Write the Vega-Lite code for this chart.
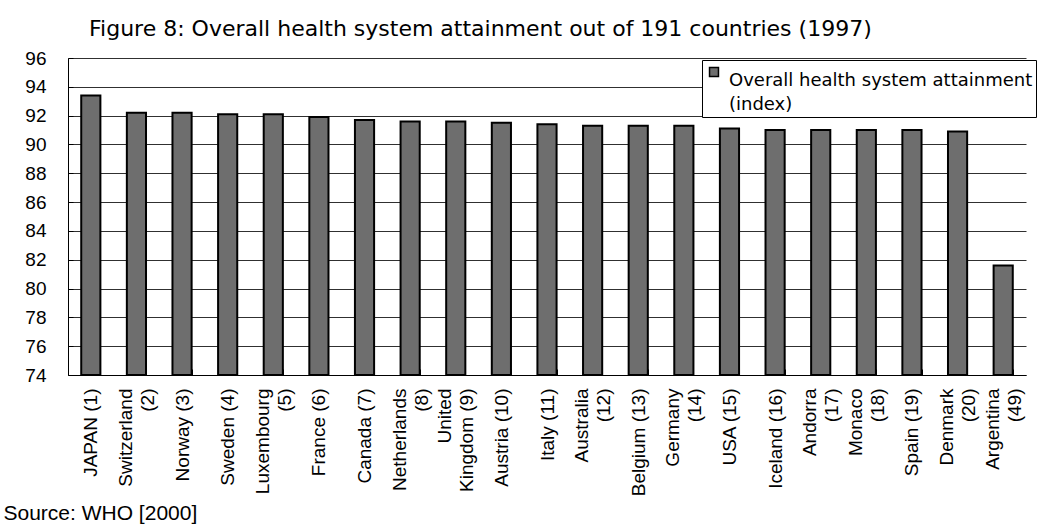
{
  "$schema": "https://vega.github.io/schema/vega-lite/v6.json",
  "width": 958,
  "height": 317,
  "autosize": "none",
  "padding": {"left": 68, "top": 58, "right": 12, "bottom": 151},
  "background": "white",
  "title": {
    "text": "Figure 8: Overall health system attainment out of 191 countries (1997)",
    "anchor": "start",
    "dx": 86,
    "offset": 8,
    "font": "DejaVu Sans",
    "fontSize": 22,
    "fontWeight": "normal",
    "color": "black"
  },
  "data": {
    "values": [
      {"country": "JAPAN (1)", "value": 93.4},
      {"country": "Switzerland|(2)", "value": 92.2},
      {"country": "Norway (3)", "value": 92.2},
      {"country": "Sweden (4)", "value": 92.1},
      {"country": "Luxembourg|(5)", "value": 92.1},
      {"country": "France (6)", "value": 91.9},
      {"country": "Canada (7)", "value": 91.7},
      {"country": "Netherlands|(8)", "value": 91.6},
      {"country": "United|Kingdom (9)", "value": 91.6},
      {"country": "Austria (10)", "value": 91.5},
      {"country": "Italy (11)", "value": 91.4},
      {"country": "Australia|(12)", "value": 91.3},
      {"country": "Belgium (13)", "value": 91.3},
      {"country": "Germany|(14)", "value": 91.3},
      {"country": "USA (15)", "value": 91.1},
      {"country": "Iceland (16)", "value": 91.0},
      {"country": "Andorra|(17)", "value": 91.0},
      {"country": "Monaco|(18)", "value": 91.0},
      {"country": "Spain (19)", "value": 91.0},
      {"country": "Denmark|(20)", "value": 90.9},
      {"country": "Argentina|(49)", "value": 81.6}
    ]
  },
  "mark": {"type": "bar", "stroke": "black", "strokeWidth": 2, "clip": true},
  "encoding": {
    "x": {
      "field": "country",
      "type": "nominal",
      "sort": null,
      "scale": {"paddingInner": 0.58, "paddingOuter": 0.29},
      "axis": {
        "title": "Source: WHO [2000]",
        "titleAnchor": "start",
        "titleAlign": "left",
        "titleX": -65,
        "titleY": 144,
        "titleBaseline": "alphabetic",
        "titleFont": "Liberation Sans",
        "titleFontSize": 21,
        "titleFontWeight": "normal",
        "titleColor": "black",
        "labelExpr": "indexof(datum.label, '|') < 0 ? datum.label : [pad(split(datum.label, '|')[0], length(split(datum.label, '|')[1]), '\u00a0'), pad(split(datum.label, '|')[1], length(split(datum.label, '|')[0]), '\u00a0')]",
        "labelAngle": -90,
        "labelAlign": "right",
        "labelBaseline": "middle",
        "labelLineHeight": 22,
        "labelOffset": {"condition": {"test": "indexof(datum.label, '|') >= 0", "value": -11}, "value": 0},
        "labelPadding": 19,
        "labelFont": "Liberation Sans",
        "labelFontSize": 19,
        "labelColor": "black",
        "tickBand": "extent",
        "tickSize": -6,
        "tickColor": "black",
        "domainColor": "black",
        "labelLimit": 200,
        "grid": false
      }
    },
    "y": {
      "field": "value",
      "type": "quantitative",
      "scale": {"domain": [74, 96], "nice": false, "zero": false},
      "axis": {
        "title": null,
        "values": [74, 76, 78, 80, 82, 84, 86, 88, 90, 92, 94, 96],
        "grid": true,
        "gridColor": "#303030",
        "gridWidth": 1,
        "gridOpacity": 1,
        "tickSize": -5,
        "tickColor": "black",
        "domainColor": "black",
        "labelFont": "Liberation Sans",
        "labelFontSize": 19,
        "labelColor": "black",
        "labelPadding": 27
      }
    },
    "y2": {"datum": 74},
    "fill": {
      "datum": "Overall health system attainment",
      "type": "nominal",
      "scale": {"range": ["#6e6e6e"]},
      "legend": {
        "orient": "none",
        "legendX": 634,
        "legendY": 2,
        "title": null,
        "fillColor": "white",
        "strokeColor": "black",
        "padding": 3,
        "symbolType": "square",
        "symbolSize": 80,
        "symbolStrokeColor": "black",
        "symbolStrokeWidth": 1.5,
        "labelExpr": "['Overall health system attainment', '(index)']",
        "labelFont": "DejaVu Sans",
        "labelFontSize": 18,
        "labelColor": "black",
        "labelLimit": 400,
        "labelBaseline": "top",
        "labelOffset": 6
      }
    }
  },
  "config": {
    "view": {"stroke": null},
    "style": {"guide-label": {"lineHeight": 24}}
  }
}
